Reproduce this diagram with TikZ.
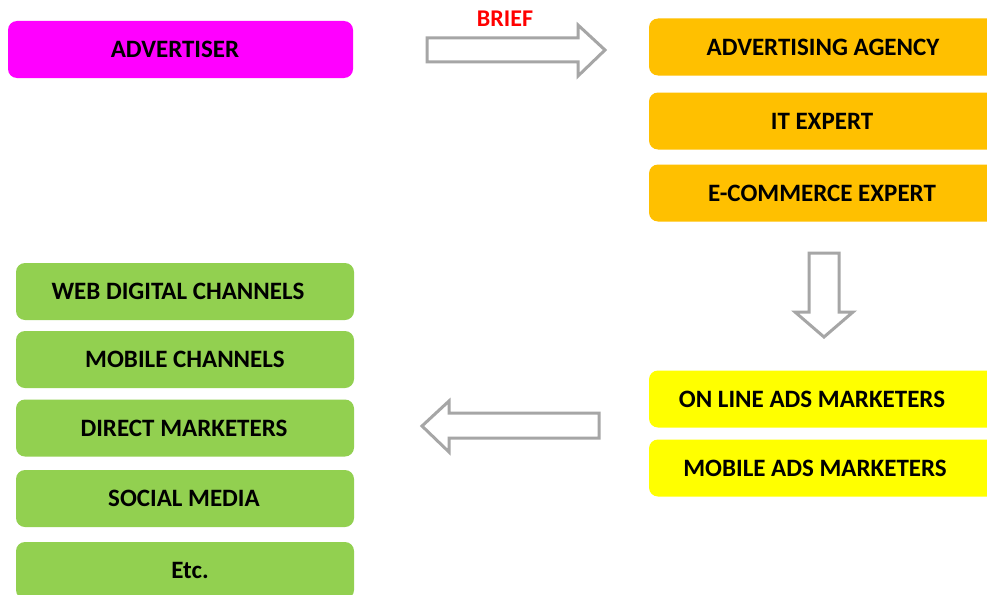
\documentclass[tikz,border=0pt]{standalone}
\usepackage{fontspec}
\setmainfont{Carlito}
\definecolor{cMag}{HTML}{FF00FF}
\definecolor{cOra}{HTML}{FFC000}
\definecolor{cYel}{HTML}{FFFF00}
\definecolor{cGre}{HTML}{92D050}
\definecolor{cGry}{HTML}{A6A6A6}
\definecolor{cRed}{HTML}{FF0000}
\newcommand{\shiftby}[1]{\hspace*{#1}}
\begin{document}
\begin{tikzpicture}[x=1pt,y=-1pt,
  box/.style={rectangle, rounded corners=9pt, minimum height=57pt, inner sep=0pt,
    font=\bfseries\fontsize{25}{30}\selectfont, text=black},
  magbox/.style={box, fill=cMag, minimum width=345pt},
  orabox/.style={box, fill=cOra, minimum width=348pt},
  yelbox/.style={box, fill=cYel, minimum width=348pt},
  grebox/.style={box, fill=cGre, minimum width=338pt},
  blockarrow/.style={draw=cGry, line width=3pt, fill=white, line join=miter},
  brieflabel/.style={font=\bfseries\fontsize{24}{28}\selectfont, text=cRed, inner sep=0pt}]
\clip (0,0) rectangle (987,594);
\fill[white] (0,0) rectangle (987,594);
% boxes
\node[magbox] (adv) at (180.5,49.5) {\shiftby{-11pt}ADVERTISER};
\node[orabox] (agency) at (823,47) {ADVERTISING AGENCY};
\node[orabox] (it) at (823,121) {\shiftby{-2pt}IT EXPERT};
\node[orabox] (ecom) at (823,193) {\shiftby{-2pt}E-COMMERCE EXPERT};
\node[yelbox] (online) at (823,399) {\shiftby{-22pt}ON LINE ADS MARKETERS};
\node[yelbox] (mobads) at (823,468) {\shiftby{-16pt}MOBILE ADS MARKETERS};
\node[grebox] (web) at (185,291.5) {\shiftby{-14pt}WEB DIGITAL CHANNELS};
\node[grebox] (mobch) at (185,359.5) {MOBILE CHANNELS};
\node[grebox] (direct) at (185,428) {\shiftby{-2pt}DIRECT MARKETERS};
\node[grebox] (social) at (185,498.5) {\shiftby{-2pt}SOCIAL MEDIA};
\node[grebox] (etc) at (185,570.5) {\shiftby{10pt}Etc.};
% block arrows
\draw[blockarrow] (427,38) -- (578,38) -- (578,25) -- (605,50) -- (578,76) -- (578,62) -- (427,62) -- cycle;
\node[brieflabel] (brief) at (505,18.5) {BRIEF};
\draw[blockarrow] (809,253) -- (839,253) -- (839,312) -- (853,312) -- (824,337) -- (795,312) -- (809,312) -- cycle;
\draw[blockarrow] (599,413) -- (449,413) -- (449,401) -- (422,426) -- (449,452) -- (449,438) -- (599,438) -- cycle;
\end{tikzpicture}
\end{document}
